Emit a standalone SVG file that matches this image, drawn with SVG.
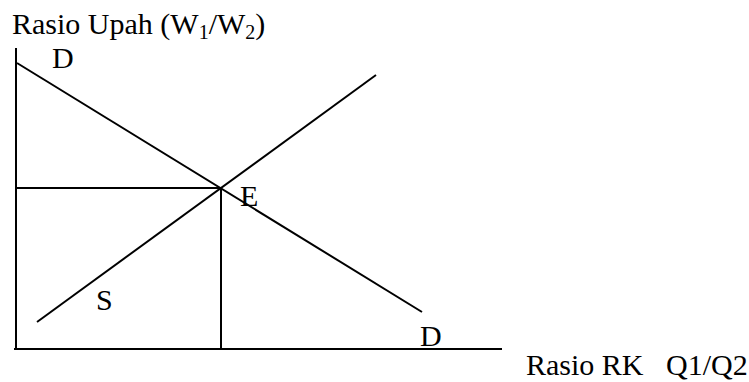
<svg xmlns="http://www.w3.org/2000/svg" width="749" height="382" viewBox="0 0 749 382">
<style>
.ln{stroke:#000;stroke-width:2;fill:none}
.t{font-family:"Liberation Serif","Times New Roman",serif;font-size:30px;fill:#000}
.sub{font-size:20px}
</style>
<rect width="749" height="382" fill="#fff"/>
<g id="axes">
<line class="ln" x1="16" y1="48" x2="16" y2="349"/>
<line class="ln" x1="14" y1="349" x2="502" y2="349"/>
</g>
<g id="connectors">
<line class="ln" x1="17" y1="63" x2="422" y2="312"/>
<line class="ln" x1="37" y1="322" x2="376" y2="75"/>
<line class="ln" x1="16" y1="188" x2="221" y2="188"/>
<line class="ln" x1="221" y1="188" x2="221" y2="349"/>
</g>
<g id="labels">
<text class="t" x="12" y="34">Rasio Upah (W<tspan class="sub" dy="5">1</tspan><tspan dy="-5">/W</tspan><tspan class="sub" dy="5">2</tspan><tspan dy="-5">)</tspan></text>
<text class="t" x="52" y="68">D</text>
<text class="t" x="240" y="206">E</text>
<text class="t" x="96" y="310">S</text>
<text class="t" x="420" y="346">D</text>
<text class="t" x="526" y="375" xml:space="preserve">Rasio RK   Q1/Q2</text>
</g>
</svg>
